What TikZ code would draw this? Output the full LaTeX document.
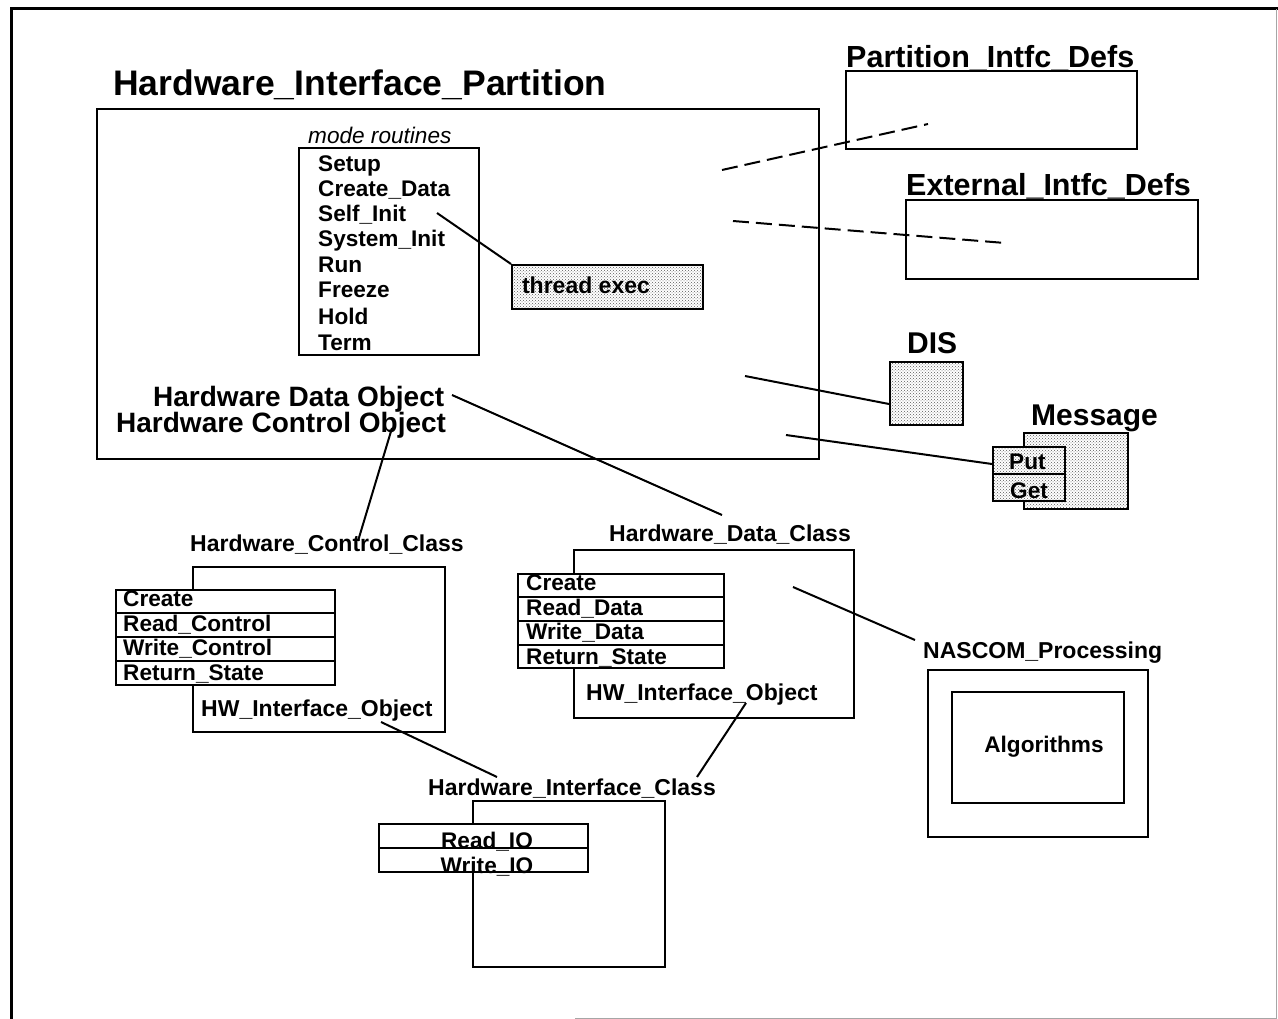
\documentclass[tikz,border=0pt]{standalone}
\usepackage{fontspec}
\setmainfont{Liberation Sans}
\usetikzlibrary{patterns}
\begin{document}
\begin{tikzpicture}[x=1pt,y=-1pt,
  box/.style={draw, line width=2pt, anchor=north west, inner sep=0pt},
  row/.style={draw, line width=2pt, anchor=north west, inner sep=0pt, text depth=0pt},
  lbl/.style={anchor=base west, inner sep=0pt, font=\bfseries\fontsize{23}{25}\selectfont},
  biglbl/.style={anchor=base west, inner sep=0pt, font=\bfseries\fontsize{30.5}{32}\selectfont},
  itm/.style={anchor=base west, inner sep=0pt, font=\bfseries\fontsize{22.6}{24}\selectfont},
  stipple/.style={pattern=crosshatch dots, pattern color=black!65},
  link/.style={line width=2pt},
  dlink/.style={line width=2pt, dash pattern=on 16pt off 7pt}]
\useasboundingbox (0,0) rectangle (1278,1019);
% page frame
\draw[line width=3pt] (11,1019) -- (11,9) -- (1278,9);
\draw[line width=1pt, black!35] (1276,9) -- (1276,1018) -- (575,1018);

% ---- partition box ----
\node[anchor=base west, inner sep=0pt, font=\bfseries\fontsize{35.5}{37}\selectfont] (title) at (113,96) {Hardware\_Interface\_Partition};
\node[box, minimum width=722pt, minimum height=350pt] (hip) at (96,108) {};
\node[anchor=base west, inner sep=0pt, font=\itshape\fontsize{22.6}{24}\selectfont] (modet) at (308,144) {mode routines};
\node[box, minimum width=180pt, minimum height=207pt] (mode) at (298,147) {};
\node[itm] (m1) at (318,172) {Setup};
\node[itm] (m2) at (318,197) {Create\_Data};
\node[itm] (m3) at (318,222) {Self\_Init};
\node[itm] (m4) at (318,247) {System\_Init};
\node[itm] (m5) at (318,273) {Run};
\node[itm] (m6) at (318,298) {Freeze};
\node[itm] (m7) at (318,324) {Hold};
\node[itm] (m8) at (318,350) {Term};
\node[box, stipple, minimum width=191pt, minimum height=44pt] (thr) at (511,264) {};
\node[inner sep=0pt, font=\bfseries\fontsize{23}{25}\selectfont] (thrt) at (586,285) {thread exec};
\node[anchor=base west, inner sep=0pt, font=\bfseries\fontsize{28}{30}\selectfont] (hdo) at (153,406) {Hardware Data Object};
\node[anchor=base west, inner sep=0pt, font=\bfseries\fontsize{28}{30}\selectfont] (hco) at (116,432) {Hardware Control Object};

% ---- interface definition packages ----
\node[biglbl] (pidt) at (846,68) {Partition\_Intfc\_Defs};
\node[box, minimum width=291pt, minimum height=78pt] (pid) at (845,70) {};
\node[biglbl] (eidt) at (906,196) {External\_Intfc\_Defs};
\node[box, minimum width=292pt, minimum height=79pt] (eid) at (905,199) {};

% ---- DIS and Message ----
\node[biglbl, font=\bfseries\fontsize{30}{32}\selectfont] (dist) at (907,353) {DIS};
\node[box, stipple, minimum width=73pt, minimum height=63pt] (dis) at (889,361) {};
\node[biglbl, font=\bfseries\fontsize{30}{32}\selectfont] (msgt) at (1031,425) {Message};
\node[box, fill=white, minimum width=104pt, minimum height=76pt] (msgw) at (1023,432) {};
\node[box, stipple, minimum width=104pt, minimum height=76pt] (msg) at (1023,432) {};
\node[row, fill=white, minimum width=72pt, minimum height=27pt] (putw) at (992,446) {};
\node[row, stipple, minimum width=72pt, minimum height=27pt] (put) at (992,446) {};
\node[row, fill=white, minimum width=72pt, minimum height=27pt] (getw) at (992,473) {};
\node[row, stipple, minimum width=72pt, minimum height=27pt] (get) at (992,473) {};
\node[itm] (putt) at (1009,469) {Put};
\node[itm] (gett) at (1010,498) {Get};

% ---- Hardware_Control_Class ----
\node[lbl] (hcct) at (190,551) {Hardware\_Control\_Class};
\node[box, minimum width=252pt, minimum height=165pt] (hcc) at (192,566) {};
\node[row, fill=white, minimum width=219pt, minimum height=23pt] (c1) at (115,589) {};
\node[row, fill=white, minimum width=219pt, minimum height=24pt] (c2) at (115,612) {};
\node[row, fill=white, minimum width=219pt, minimum height=24pt] (c3) at (115,636) {};
\node[row, fill=white, minimum width=219pt, minimum height=24pt] (c4) at (115,660) {};
\node[itm] (c1t) at (123,606) {Create};
\node[itm] (c2t) at (123,631) {Read\_Control};
\node[itm] (c3t) at (123,655) {Write\_Control};
\node[itm] (c4t) at (123,680) {Return\_State};
\node[lbl] (hcco) at (201,716) {HW\_Interface\_Object};

% ---- Hardware_Data_Class ----
\node[lbl] (hdct) at (609,541) {Hardware\_Data\_Class};
\node[box, minimum width=280pt, minimum height=168pt] (hdc) at (573,549) {};
\node[row, fill=white, minimum width=206pt, minimum height=23pt] (d1) at (517,573) {};
\node[row, fill=white, minimum width=206pt, minimum height=24pt] (d2) at (517,596) {};
\node[row, fill=white, minimum width=206pt, minimum height=24pt] (d3) at (517,620) {};
\node[row, fill=white, minimum width=206pt, minimum height=23pt] (d4) at (517,644) {};
\node[itm] (d1t) at (526,590) {Create};
\node[itm] (d2t) at (526,615) {Read\_Data};
\node[itm] (d3t) at (526,639) {Write\_Data};
\node[itm] (d4t) at (526,664) {Return\_State};
\node[lbl] (hdco) at (586,700) {HW\_Interface\_Object};

% ---- NASCOM_Processing ----
\node[lbl] (nast) at (923,658) {NASCOM\_Processing};
\node[box, minimum width=220pt, minimum height=167pt] (nas) at (927,669) {};
\node[box, minimum width=172pt, minimum height=111pt] (alg) at (951,691) {};
\node[inner sep=0pt, font=\bfseries\fontsize{22.6}{24}\selectfont] (algt) at (1044,747) {Algorithms};

% ---- Hardware_Interface_Class ----
\node[lbl] (hict) at (428,795) {Hardware\_Interface\_Class};
\node[box, minimum width=192pt, minimum height=166pt] (hic) at (472,800) {};
\node[row, fill=white, minimum width=209pt, minimum height=24pt] (io1) at (378,823) {};
\node[row, fill=white, minimum width=209pt, minimum height=24pt] (io2) at (378,847) {};
\node[inner sep=0pt, font=\bfseries\fontsize{22.6}{24}\selectfont, anchor=base] (io1t) at (487,848) {Read\_IO};
\node[inner sep=0pt, font=\bfseries\fontsize{22.6}{24}\selectfont, anchor=base] (io2t) at (487,873) {Write\_IO};

% ---- connector end points ----
\coordinate (selfend) at (437,213);
\coordinate (pidin) at (928,124);
\coordinate (pidout) at (722,170);
\coordinate (eidin) at (1005,243);
\coordinate (eidout) at (733,221);
\coordinate (disout) at (745,376);
\coordinate (disin) at (889,404);
\coordinate (msgout) at (786,435);
\coordinate (msgin) at (992,464);
\coordinate (hcoend) at (392,428);
\coordinate (hccend) at (358,541);
\coordinate (hdoend) at (452,395);
\coordinate (hdcend) at (722,515);
\coordinate (hdcin) at (793,587);
\coordinate (nasin) at (915,640);
\coordinate (hccobj) at (381,722);
\coordinate (hicl) at (497,777);
\coordinate (hdcobj) at (746,703);
\coordinate (hicr) at (697,777);

% ---- connectors ----
\draw[link] (selfend) -- (thr.north west);
\draw[dlink] (pidout) -- (pidin);
\draw[dlink] (eidout) -- (eidin);
\draw[link] (disout) -- (disin);
\draw[link] (msgout) -- (msgin);
\draw[link] (hcoend) -- (hccend);
\draw[link] (hdoend) -- (hdcend);
\draw[link] (hdcin) -- (nasin);
\draw[link] (hccobj) -- (hicl);
\draw[link] (hdcobj) -- (hicr);
\end{tikzpicture}
\end{document}
